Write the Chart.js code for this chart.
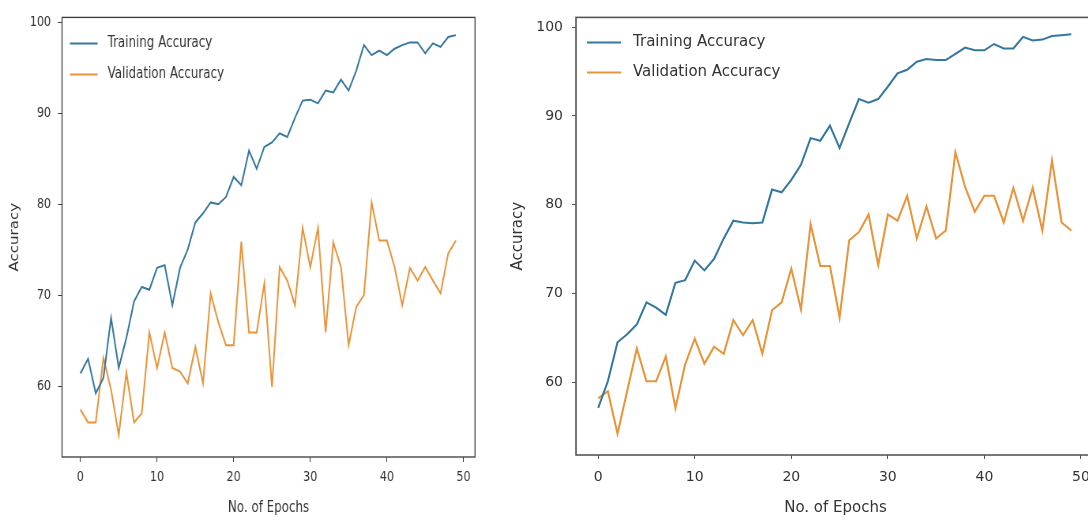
<!DOCTYPE html>
<html><head><meta charset="utf-8">
<script src="https://cdn.jsdelivr.net/npm/chart.js@4.4.0/dist/chart.umd.min.js"></script>
<style>
html,body{margin:0;padding:0;background:#fff;overflow:hidden;width:1088px;height:520px;}
#c1{position:absolute;left:0;top:0;transform:scaleX(0.79);transform-origin:0 0;}
#c2{position:absolute;left:500px;top:0;}
</style></head><body>
<canvas id="c1" width="633" height="520"></canvas>
<canvas id="c2" width="600" height="520"></canvas>
<script>
const epochs = [0,1,2,3,4,5,6,7,8,9,10,11,12,13,14,15,16,17,18,19,20,21,22,23,24,25,26,27,28,29,30,31,32,33,34,35,36,37,38,39,40,41,42,43,44,45,46,47,48,49];
const seriesNames = ['Training Accuracy', 'Validation Accuracy'];
const xTickValues = [0, 10, 20, 30, 40, 50];
const yTickValues = [60, 70, 80, 90, 100];
const xTitle = 'No. of Epochs';
const yTitle = 'Accuracy';

const leftTrain = [61.4,63.0,59.2,60.9,67.5,62.0,65.3,69.3,70.9,70.6,
                   73.0,73.3,68.9,73.0,75.0,78.0,79.0,80.2,80.0,80.8,
                   83.0,82.1,85.9,83.9,86.3,86.8,87.8,87.4,89.5,91.4,
                   91.5,91.1,92.5,92.3,93.7,92.5,94.7,97.5,96.4,96.9,
                   96.4,97.1,97.5,97.8,97.8,96.6,97.7,97.3,98.4,98.6];
const leftVal = [57.4,56.0,56.0,63.1,59.6,54.6,61.5,56.0,57.0,65.9,
                 62.0,65.9,62.0,61.6,60.3,64.3,60.3,70.2,67.0,64.5,
                 64.5,75.9,65.9,65.9,71.3,59.9,73.1,71.6,68.9,77.4,
                 73.1,77.4,65.9,75.8,73.1,64.5,68.7,70.0,80.2,76.0,
                 76.0,73.1,68.9,73.0,71.6,73.1,71.6,70.2,74.6,76.0];
const rightTrain = [57.1,60.1,64.5,65.4,66.5,69.0,68.4,67.6,71.2,71.5,
                    73.7,72.6,73.9,76.2,78.2,78.0,77.9,78.0,81.7,81.4,
                    82.8,84.5,87.5,87.2,88.9,86.4,89.2,91.9,91.5,91.9,
                    93.3,94.8,95.2,96.1,96.4,96.3,96.3,97.0,97.7,97.4,
                    97.4,98.1,97.6,97.6,98.9,98.5,98.6,99.0,99.1,99.2];
const rightVal = [58.2,59.0,54.2,59.0,63.8,60.1,60.1,62.9,57.1,62.0,
                  64.9,62.1,64.0,63.2,67.0,65.3,67.0,63.2,68.1,69.0,
                  72.8,68.2,77.8,73.1,73.1,67.3,76.0,76.9,78.9,73.2,
                  78.9,78.2,81.0,76.2,79.8,76.2,77.1,85.9,82.0,79.2,
                  81.0,81.0,78.0,81.9,78.2,81.9,77.1,85.0,78.0,77.1];

const blue = '#35789f';
const orange = '#e8943a';
const textColor = '#333333';
const FONT = 'DejaVu Sans';

function pts(vals) { return epochs.map((e, i) => ({x: e, y: vals[i]})); }

function makeChart(id, train, val, g) {
  const frame = {
    id: 'frameLegend',
    afterDatasetsDraw(chart) {
      const {ctx, chartArea: a} = chart;
      ctx.save();
      ctx.strokeStyle = g.spine; ctx.lineWidth = g.spineW;
      ctx.strokeRect(a.left, a.top, a.right - a.left, a.bottom - a.top);
      ctx.font = g.legendSize + 'px "' + FONT + '"';
      ctx.textBaseline = 'middle'; ctx.textAlign = 'left';
      chart.data.datasets.forEach((ds, i) => {
        const y = a.top + g.legOy + i * g.legDy;
        const x0 = a.left + g.legOx;
        ctx.strokeStyle = ds.borderColor; ctx.lineWidth = 2;
        ctx.beginPath(); ctx.moveTo(x0, y); ctx.lineTo(x0 + g.legLen, y); ctx.stroke();
        ctx.fillStyle = textColor;
        ctx.fillText(ds.label, x0 + g.legLen + g.legGap, y);
      });
      ctx.restore();
    }
  };
  return new Chart(document.getElementById(id), {
    type: 'line',
    data: {
      datasets: [
        {label: seriesNames[0], data: pts(train), borderColor: blue, backgroundColor: blue, borderWidth: 2, pointRadius: 0, tension: 0},
        {label: seriesNames[1], data: pts(val), borderColor: orange, backgroundColor: orange, borderWidth: 2, pointRadius: 0, tension: 0}
      ]
    },
    options: {
      responsive: false, animation: false, devicePixelRatio: 1, events: [],
      layout: {padding: {top: g.padTop, right: g.padRight, left: 0, bottom: 0}},
      plugins: {legend: {display: false}, tooltip: {enabled: false}},
      scales: {
        x: {
          type: 'linear', min: g.xMin, max: g.xMax,
          afterBuildTicks: s => { s.ticks = xTickValues.map(v => ({value: v})); },
          afterFit: s => { s.height = g.xAxisH; },
          grid: {display: true, drawOnChartArea: false, drawTicks: true, tickLength: g.tickLen, color: g.spine, lineWidth: 1},
          border: {display: false},
          ticks: {padding: g.xTickPad, color: textColor, font: {family: FONT, size: g.tickSize}, maxRotation: 0, callback: v => String(v)},
          title: {display: true, text: xTitle, color: textColor, font: {family: FONT, size: g.titleSize}, padding: {top: 2, bottom: g.xTitlePad}}
        },
        y: {
          type: 'linear', min: g.yMin, max: g.yMax,
          afterBuildTicks: s => { s.ticks = yTickValues.map(v => ({value: v})); },
          afterFit: s => { s.width = g.yAxisW; },
          grid: {display: true, drawOnChartArea: false, drawTicks: true, tickLength: g.tickLen, color: g.spine, lineWidth: 1},
          border: {display: false},
          ticks: {padding: g.yTickPad, color: textColor, font: {family: FONT, size: g.tickSize}, callback: v => String(v)},
          title: {display: true, text: yTitle, color: textColor, font: {family: FONT, size: g.titleSize}, padding: {top: g.yTitlePad, bottom: 0}}
        }
      }
    },
    plugins: [frame]
  });
}

// left chart drawn in a canvas compressed horizontally by 0.79
makeChart('c1', leftTrain, leftVal, {
  padTop: 17, padRight: 31.7, yAxisW: 78.5, xAxisH: 63,
  xMin: -2.4, xMax: 51.5, yMin: 52.2, yMax: 100.55,
  tickLen: 5, xTickPad: 7, yTickPad: 9, tickSize: 14, titleSize: 15,
  xTitlePad: 3, yTitlePad: 10,
  spine: '#3a3a3a', spineW: 1.3,
  legendSize: 15, legOx: 10, legOy: 26, legDy: 31, legLen: 35, legGap: 12.7
});
makeChart('c2', rightTrain, rightVal, {
  padTop: 10, padRight: 5, yAxisW: 76, xAxisH: 65,
  xMin: -2.3, xMax: 51.45, yMin: 51.8, yMax: 101.1,
  tickLen: 4, xTickPad: 10, yTickPad: 9, tickSize: 14, titleSize: 15,
  xTitlePad: 3, yTitlePad: 9,
  spine: '#555555', spineW: 1.6,
  legendSize: 15, legOx: 11, legOy: 25, legDy: 30, legLen: 34, legGap: 12
});
</script>
</body></html>
